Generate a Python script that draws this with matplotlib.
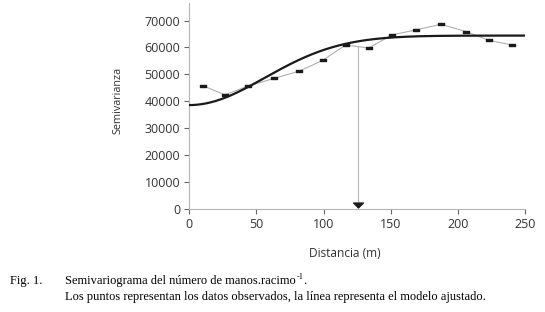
import numpy as np
import matplotlib
matplotlib.use("Agg")
import matplotlib.pyplot as plt
from matplotlib.path import Path

# Observed semivariance
distance = [10.0, 26.6, 43.9, 63.3, 81.9, 99.3, 116.4, 133.6, 151.2, 168.8, 187.4, 206.0, 223.4, 240.5]
semivar = [45800, 42400, 45700, 48500, 51200, 55200, 60900, 59800, 64700, 66500, 68600, 65900, 62600, 60900]

# Fitted gaussian model parameters
nugget = 38600
partial_sill = 25800
model_range = 138
marked_distance = 126

xticks = [0, 50, 100, 150, 200, 250]
yticks = [0, 10000, 20000, 30000, 40000, 50000, 60000, 70000]

fig = plt.figure(figsize=(5.45, 3.12), dpi=100)
ax = fig.add_axes([0.3473, 0.330, 0.9633 - 0.3473, 0.9904 - 0.330])

tick_font = "Open Sans"
gray = "#333333"

rect = Path([(-1, -0.55), (1, -0.55), (1, 0.55), (-1, 0.55), (-1, -0.55)],
            [Path.MOVETO, Path.LINETO, Path.LINETO, Path.LINETO, Path.CLOSEPOLY])
tri = Path([(-1, 0.5), (1, 0.5), (0, -0.5), (-1, 0.5)],
           [Path.MOVETO, Path.LINETO, Path.LINETO, Path.CLOSEPOLY])

ax.plot(distance, semivar, color="#b0b0b0", lw=0.8, zorder=2)
ax.plot(distance, semivar, linestyle="none", marker=rect, markersize=3.8,
        color="#1a1a1a", zorder=4)

h = np.linspace(0, 250, 400)
gam = nugget + partial_sill * (1 - np.exp(-3 * h ** 2 / model_range ** 2))
ax.plot(h, gam, color="#1a1a1a", lw=1.6, zorder=3)

ytop = np.interp(marked_distance, distance, semivar)
ax.plot([marked_distance, marked_distance], [ytop, 1500], color="#b8b8b8", lw=0.8, zorder=1)
ax.plot([marked_distance], [1500], marker=tri, markersize=7, color="#1a1a1a", zorder=5)

ax.set_xlim(0, 250)
ax.set_ylim(0, 76500)
ax.set_xticks(xticks)
ax.set_yticks(yticks)
ax.set_xticklabels([str(v) for v in xticks], fontfamily=tick_font, fontsize=9, color=gray)
ax.set_yticklabels([str(v) for v in yticks], fontfamily=tick_font, fontsize=9, color=gray)
for s in ["top", "right"]:
    ax.spines[s].set_visible(False)
for s in ["left", "bottom"]:
    ax.spines[s].set_color("#b5b5b5")
    ax.spines[s].set_linewidth(0.8)
ax.tick_params(axis="both", length=3.5, width=0.8, color="#666666", pad=3)

ax.set_xlabel("Distancia (m)", fontfamily=tick_font, fontsize=8.6, color=gray)
ax.xaxis.set_label_coords((345 - 189.3) / 335.7, (209 - 253) / 206.0)
ax.xaxis.label.set_va("center")
ax.set_ylabel("Semivarianza", fontfamily=tick_font, fontsize=7.8, color=gray)
ax.yaxis.set_label_coords((118 - 189.3) / 335.7, (209 - 100) / 206.0)
ax.yaxis.label.set_va("center")

serif = "Liberation Serif"
fs = 9.0
fig.text(10 / 545, 1 - 281 / 312, "Fig. 1.", fontfamily=serif, fontsize=fs, va="center", ha="left")
t1 = fig.text(65 / 545, 1 - 281 / 312, "Semivariograma del número de manos.racimo",
              fontfamily=serif, fontsize=fs, va="center", ha="left")
fig.text(65 / 545, 1 - 297 / 312,
         "Los puntos representan los datos observados, la línea representa el modelo ajustado.",
         fontfamily=serif, fontsize=fs, va="center", ha="left")
renderer = fig.canvas.get_renderer()
bb = t1.get_window_extent(renderer)
x_end = bb.x1 / fig.bbox.width
sup = fig.text(x_end + 0.001, 1 - 277 / 312, "-1", fontfamily=serif, fontsize=6,
               va="center", ha="left")
bb2 = sup.get_window_extent(renderer)
fig.text(bb2.x1 / fig.bbox.width, 1 - 281 / 312, ".", fontfamily=serif, fontsize=fs,
         va="center", ha="left")

fig.savefig("out.png", dpi=100)
